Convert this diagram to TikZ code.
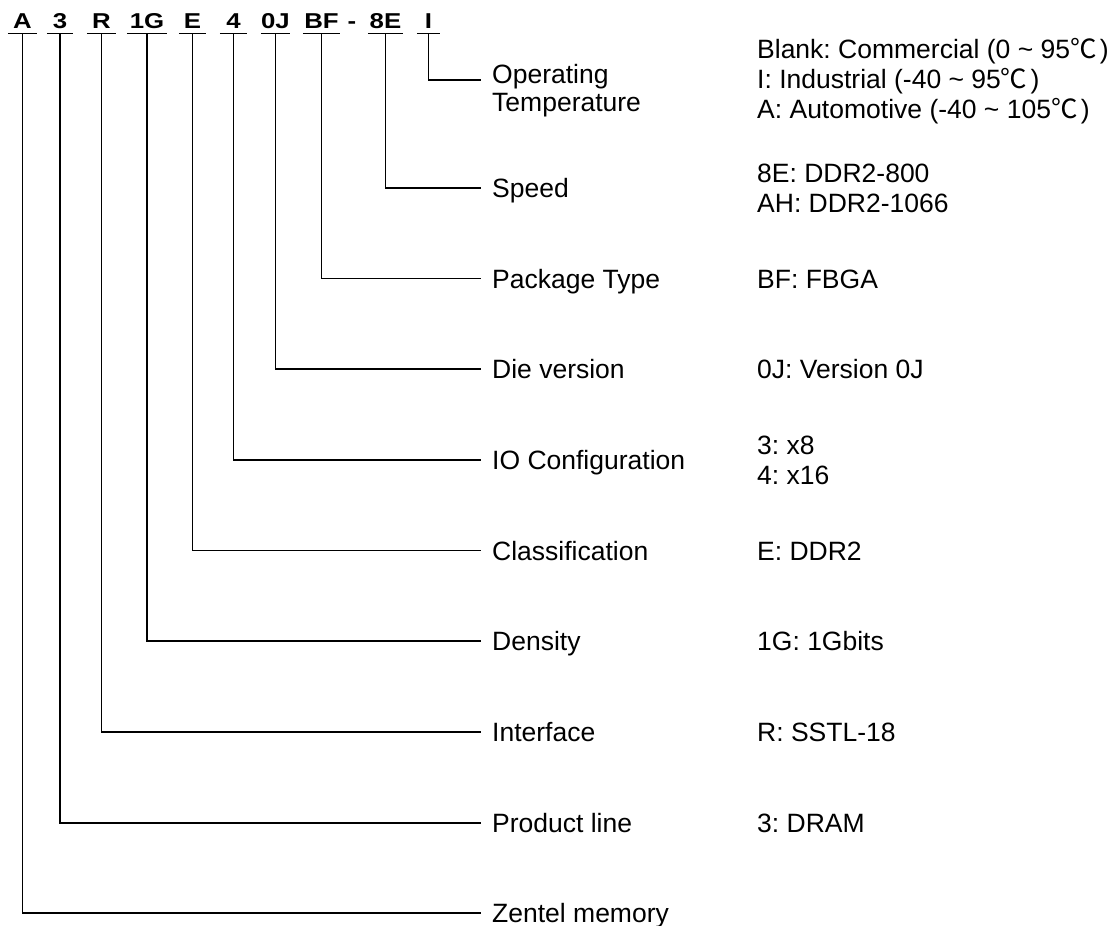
\documentclass[tikz,border=0pt]{standalone}
\usepackage{fontspec}
\setmainfont{Liberation Sans}
\newfontfamily\cjk{Noto Sans CJK SC}
\newfontfamily\codefont[FakeStretch=1.2]{Liberation Sans}
\newcommand\degc{{\cjk ℃}\kern0.12em}
\frenchspacing
\begin{document}
\begin{tikzpicture}[x=1pt,y=-1pt,
  codeseg/.style={font=\codefont\bfseries\fontsize{21.5}{24}\selectfont, anchor=base, inner xsep=0pt, inner ysep=5pt, text depth=0pt, minimum width=#1},
  codeseg/.default=10pt,
  lbl/.style={anchor=west, inner xsep=11pt, inner ysep=0pt, text height=19pt, text depth=0pt, font=\fontsize{26.5}{28.5}\selectfont},
  lblm/.style={anchor=north west, inner xsep=11pt, inner ysep=0pt, align=left, font=\fontsize{26.5}{28.5}\selectfont},
  val/.style={anchor=west, inner sep=0pt, text height=19pt, text depth=0pt, font=\fontsize{26.5}{30}\selectfont},
  valm/.style={anchor=west, inner sep=0pt, align=left, font=\fontsize{26.5}{30}\selectfont},
  wire/.style={line width=1.6pt},
  uline/.style={line width=1.6pt}]
\useasboundingbox (0,0) rectangle (1112,926);

% part number segments
\node[codeseg=29pt] (cA)  at (22.5,28.3)  {A};
\node[codeseg=26pt] (c3)  at (60,28.3)    {3};
\node[codeseg=29pt] (cR)  at (101.5,28.3) {R};
\node[codeseg=40pt] (c1G) at (147,28.3)   {1G};
\node[codeseg=27pt] (cE)  at (192.5,28.3) {E};
\node[codeseg=27pt] (c4)  at (233.5,28.3) {4};
\node[codeseg=27pt] (c0J) at (275.5,28.3) {0J};
\node[codeseg=37pt] (cBF) at (321.5,28.3) {BF};
\node[codeseg]      (cdash) at (352,28.3) {-};
\node[codeseg=35pt] (c8E) at (385.5,28.3) {8E};
\node[codeseg=23pt] (cI)  at (428.5,28.3) {I};

\foreach \n in {cA,c3,cR,c1G,cE,c4,c0J,cBF,c8E,cI}
  \draw[uline] (\n.south west) -- (\n.south east);

% labels
\node[lblm] (ot) at (481,64) {Operating\\Temperature};
\coordinate (otc) at (481,80);
\node[lbl] (spd) at (481,188)   {Speed};
\node[lbl] (pkg) at (481,278.5) {Package Type};
\node[lbl] (die) at (481,369)   {Die version};
\node[lbl] (io)  at (481,460)   {IO Configuration};
\node[lbl] (cls) at (481,550.5) {Classification};
\node[lbl] (den) at (481,641)   {Density};
\node[lbl] (itf) at (481,732)   {Interface};
\node[lbl] (prd) at (481,823)   {Product line};
\node[lbl] (zen) at (481,913)   {Zentel memory};

% connectors
\draw[wire] (cI.south)  |- (otc);
\draw[wire] (c8E.south) |- (spd.west);
\draw[wire] (cBF.south) |- (pkg.west);
\draw[wire] (c0J.south) |- (die.west);
\draw[wire] (c4.south)  |- (io.west);
\draw[wire] (cE.south)  |- (cls.west);
\draw[wire] (c1G.south) |- (den.west);
\draw[wire] (cR.south)  |- (itf.west);
\draw[wire] (c3.south)  |- (prd.west);
\draw[wire] (cA.south)  |- (zen.west);

% values
\node[valm] (vot)  at (757,81.5) {Blank: Commercial (0 \textasciitilde\ 95\degc)\\I: Industrial (-40 \textasciitilde\ 95\degc)\\A: Automotive (-40 \textasciitilde\ 105\degc)};
\node[valm] (vspd) at (757,188)   {8E: DDR2-800\\AH: DDR2-1066};
\node[val]  (vpkg) at (757,278.5) {BF: FBGA};
\node[val]  (vdie) at (757,369)   {0J: Version 0J};
\node[valm] (vio)  at (757,460)   {3: x8\\4: x16};
\node[val]  (vcls) at (757,550.5) {E: DDR2};
\node[val]  (vden) at (757,641)   {1G: 1Gbits};
\node[val]  (vitf) at (757,732)   {R: SSTL-18};
\node[val]  (vprd) at (757,823)   {3: DRAM};
\end{tikzpicture}
\end{document}
